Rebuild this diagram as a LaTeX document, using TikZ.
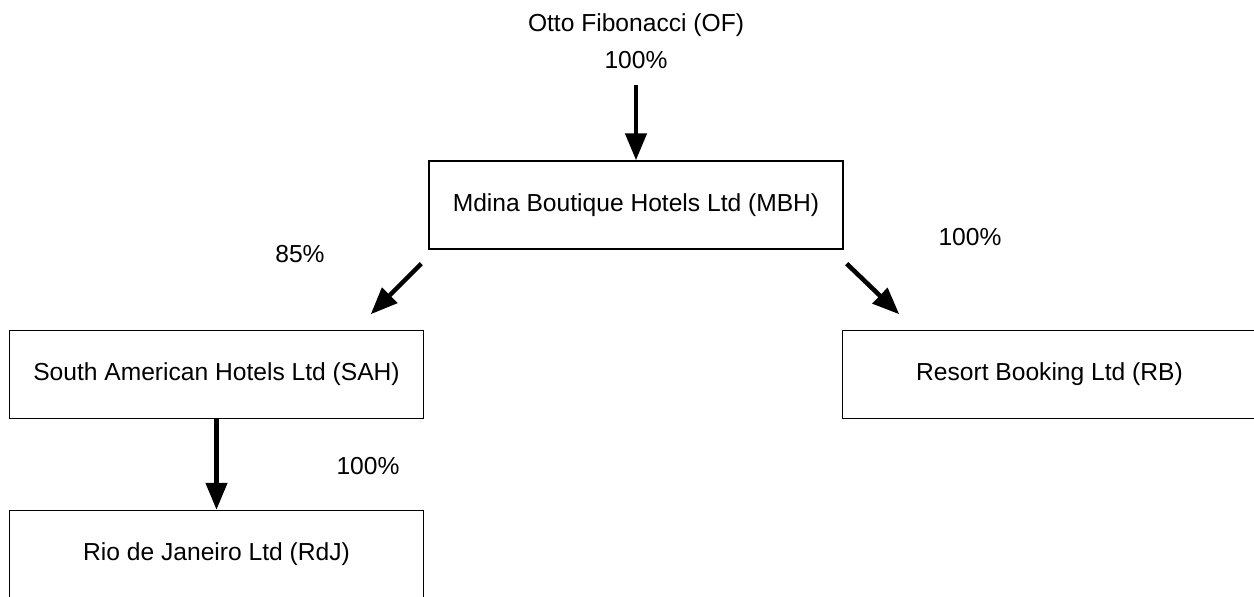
\documentclass[tikz,border=0pt]{standalone}
\usepackage{fontspec}
\setmainfont{Liberation Sans}
\usetikzlibrary{arrows.meta}

\tikzset{
  entite/.style={draw, line width=0.8pt, minimum width=82.8mm, minimum height=17.6mm, inner sep=0pt},
  fleche/.style={-{Triangle[width=4.2mm,length=5.4mm]}, line width=2.6pt}
}

\begin{document}
\begin{tikzpicture}[x=0.2mm, y=-0.2mm, font=\fontsize{14}{17}\selectfont]
    \useasboundingbox (0,0) rectangle (1254,597);
    \clip (0,0) rectangle (1254,597);

    % Actionnaire
    \node (of) at (636,25) {Otto Fibonacci (OF)};
    \node (ofpct) at (636,60) {100\%};

    % Societes
    \node[entite] (mbh) at (636,205) {Mdina Boutique Hotels Ltd (MBH)};
    \node[entite] (sah) at (216.5,374.5) {South American Hotels Ltd (SAH)};
    \node[entite] (rb) at (1049.5,374.5) {Resort Booking Ltd (RB)};
    \node[entite] (rdj) at (216.5,554.5) {Rio de Janeiro Ltd (RdJ)};

    % Pourcentages
    \node (pctsah) at (300,254) {85\%};
    \node (pctrb) at (970,237) {100\%};
    \node (pctrdj) at (368,466) {100\%};

    % Liens
    \draw[fleche, shorten <=5.7pt] (ofpct.south) -- (mbh.north);
    \draw[fleche] ([shift={(-7,14)}]mbh.south west) -- ([shift={(-53.5,-15.5)}]sah.north east);
    \draw[fleche] ([shift={(3,14)}]mbh.south east) -- ([shift={(57.5,-15.5)}]rb.north west);
    \draw[fleche] (sah.south) -- (rdj.north);

\end{tikzpicture}
\end{document}
